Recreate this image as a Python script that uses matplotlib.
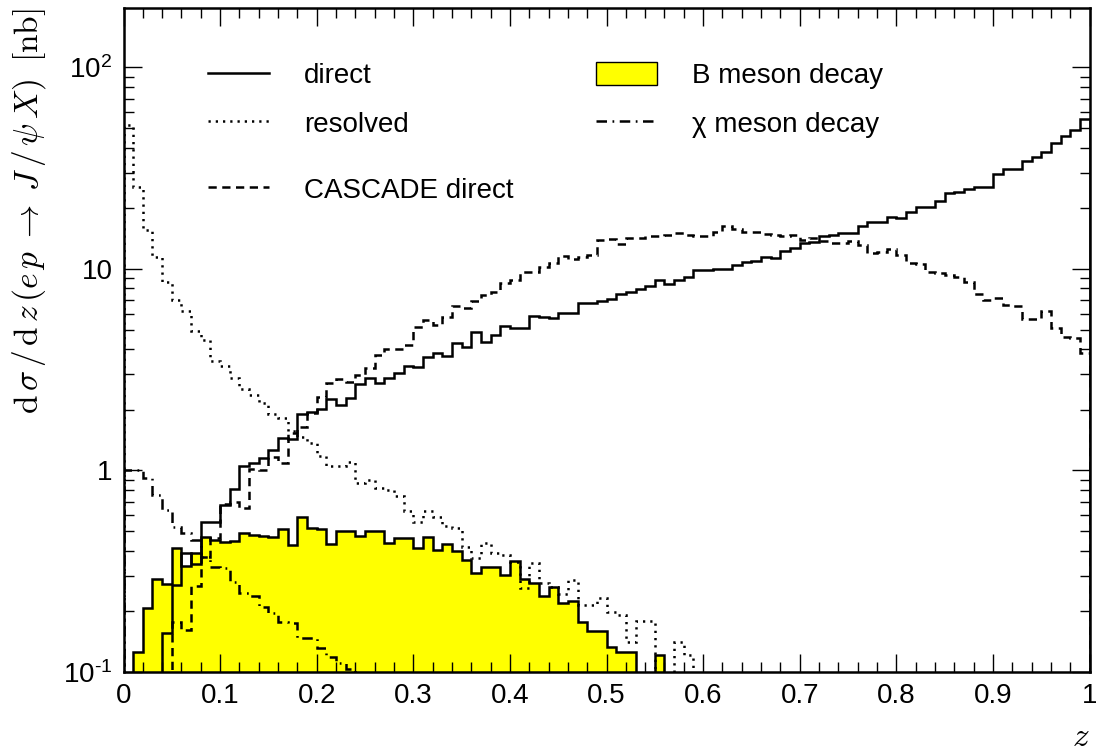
import numpy as np
import matplotlib
matplotlib.use("Agg")
import matplotlib.pyplot as plt
from matplotlib.lines import Line2D
from matplotlib.patches import Patch
from matplotlib.ticker import FixedLocator, FuncFormatter, LogLocator, NullFormatter

plt.rcParams['font.family'] = ['Liberation Sans', 'DejaVu Sans']
plt.rcParams['mathtext.fontset'] = 'custom'
plt.rcParams['mathtext.rm'] = 'Liberation Sans'
plt.rcParams['mathtext.it'] = 'Liberation Sans:italic'

# histograms in 100 bins of width 0.01 in z; each series lists its bins from a first bin on
bin_width = 0.01

direct_first = 4
direct = [0.156, 0.27, 0.39, 0.343, 0.557, 0.557,
          0.674, 0.807, 1.05, 1.09, 1.15, 1.27, 1.45, 1.43, 1.90, 1.94,
          2.01, 2.26, 2.11, 2.30, 2.69, 2.87, 2.71, 2.89, 3.04, 3.30,
          3.27, 3.67, 3.84, 3.70, 4.28, 4.12, 4.88, 4.36, 4.70, 5.21,
          5.08, 5.11, 5.86, 5.76, 5.70, 6.07, 6.03, 6.76, 6.76, 6.94,
          7.10, 7.49, 7.66, 7.93, 8.26, 8.82, 8.43, 8.82, 9.16, 9.89,
          9.84, 10.0, 10.0, 10.5, 10.8, 11.0, 11.4, 11.3, 12.3, 12.7,
          13.5, 13.6, 14.5, 14.7, 15.0, 15.0, 16.3, 17.0, 17.0, 18.2,
          17.8, 19.2, 20.2, 20.2, 21.7, 23.7, 24.2, 24.9, 25.6, 25.6,
          29.6, 31.2, 31.2, 34.3, 36.1, 38.2, 42.0, 45.4, 49.0, 55.3]

cascade_first = 5
cascade = [0.178, 0.162, 0.267, 0.37, 0.46,
           0.68, 0.70, 0.65, 1.02, 1.0, 1.17, 1.09, 1.54, 1.65, 1.92,
           2.32, 2.72, 2.84, 2.76, 2.98, 3.21, 3.74, 3.99, 4.0, 4.2,
           5.14, 5.58, 5.27, 5.76, 6.55, 6.38, 6.96, 7.43, 7.71, 8.49,
           8.82, 9.70, 9.6, 10.2, 10.7, 11.6, 11.2, 11.4, 11.7, 13.9,
           14.0, 13.3, 14.3, 14.3, 14.6, 14.6, 14.8, 15.1, 14.8, 14.6,
           14.5, 15.2, 16.3, 15.7, 15.2, 15.2, 14.9, 14.7, 14.5, 14.7,
           13.9, 14.2, 13.7, 13.5, 13.4, 13.7, 13.2, 12.0, 12.2, 12.5,
           11.7, 10.7, 10.6, 9.70, 9.5, 9.34, 9.1, 8.65, 7.51, 7.02,
           7.16, 6.63, 6.55, 5.63, 5.63, 6.21, 5.08, 4.61, 4.53, 3.82]

resolved_first = 0
resolved = [51.8, 25.4, 15.6, 11.4, 8.65, 7.02, 6.18, 4.94, 4.42, 3.49,
            3.30, 2.88, 2.55, 2.36, 2.15, 1.91, 1.83, 1.57, 1.47, 1.37,
            1.18, 1.05, 1.05, 1.10, 0.87, 0.90, 0.82, 0.80, 0.75, 0.627,
            0.552, 0.627, 0.59, 0.53, 0.52, 0.419, 0.367, 0.437, 0.39, 0.381,
            0.352, 0.26, 0.346, 0.275, 0.265, 0.245, 0.286, 0.215, 0.215, 0.233,
            0.199, 0.192, 0.141, 0.179, 0.179, 0, 0, 0.141, 0.122]

bmeson_first = 1
bmeson = [0.126, 0.207, 0.288, 0.272, 0.414, 0.336, 0.39, 0.469, 0.452,
          0.44, 0.449, 0.491, 0.479, 0.473, 0.469, 0.511, 0.427, 0.586, 0.517,
          0.511, 0.431, 0.50, 0.50, 0.473, 0.499, 0.50, 0.438, 0.46, 0.462,
          0.413, 0.469, 0.405, 0.43, 0.398, 0.36, 0.309, 0.332, 0.332, 0.303,
          0.356, 0.291, 0.275, 0.238, 0.265, 0.219, 0.225, 0.178, 0.16, 0.16,
          0.133, 0.126, 0.126, 0, 0, 0.122]

chi_first = 0
chi = [1.0, 1.0, 0.915, 0.756, 0.636, 0.526, 0.488, 0.45, 0.373, 0.333,
       0.327, 0.279, 0.246, 0.237, 0.211, 0.197, 0.178, 0.176, 0.148, 0.147,
       0.131, 0.119, 0.111, 0.103]

labels = ["direct", "resolved", "CASCADE direct", "B meson decay", "\u03c7 meson decay"]
y_major = [0.1, 1, 10, 100]
y_major_labels = [r"$10^{\text{-}1}$", "1", "10", r"$10^{2}$"]

floor = 1e-3  # empty bins are drawn below the axis


def edges_for(first, values):
    return (first + np.arange(len(values) + 1)) * bin_width


def shown(values):
    v = np.asarray(values, dtype=float)
    return np.where(v > 0, v, floor)


fig = plt.figure(figsize=(10.96, 7.51), dpi=100)
ax = fig.add_axes([0.1127, 0.1052, 0.8814, 0.8841])

lw = 1.8
styles = {
    "direct": "-",
    "resolved": (0, (0.9, 2.0)),
    "cascade": (0, (3.3, 2.2)),
    "chi": (0, (4.2, 2.2, 0.7, 2.2)),
}

ax.stairs(shown(bmeson), edges_for(bmeson_first, bmeson), baseline=floor,
          fill=True, color="#ffff00", zorder=1)
ax.stairs(shown(bmeson), edges_for(bmeson_first, bmeson), baseline=floor,
          color="black", lw=lw, zorder=2)
ax.stairs(shown(direct), edges_for(direct_first, direct), baseline=floor,
          color="black", lw=lw, ls=styles["direct"], zorder=3)
ax.stairs(shown(resolved), edges_for(resolved_first, resolved), baseline=floor,
          color="black", lw=lw, ls=styles["resolved"], zorder=3)
ax.stairs(shown(cascade), edges_for(cascade_first, cascade), baseline=floor,
          color="black", lw=lw, ls=styles["cascade"], zorder=3)
ax.stairs(shown(chi), edges_for(chi_first, chi), baseline=floor,
          color="black", lw=lw, ls=styles["chi"], zorder=3)

ax.set_yscale("log")
ax.set_xlim(0, 1)
ax.set_ylim(0.1, 197)

ax.xaxis.set_major_locator(FixedLocator(np.arange(0, 1.01, 0.1)))
ax.xaxis.set_minor_locator(FixedLocator(np.arange(0, 1.001, 0.02)))
ax.xaxis.set_major_formatter(FuncFormatter(lambda v, p: "%g" % round(v, 1)))
ax.yaxis.set_major_locator(FixedLocator(y_major))
ax.yaxis.set_major_formatter(FuncFormatter(lambda v, p: y_major_labels[p] if p is not None and p < len(y_major_labels) else ""))
ax.yaxis.set_minor_locator(LogLocator(base=10, subs=np.arange(2, 10)))
ax.yaxis.set_minor_formatter(NullFormatter())

ax.tick_params(which="both", direction="in", top=True, right=True, width=1.0, labelsize=20)
ax.tick_params(which="major", length=13)
ax.tick_params(which="minor", length=7)
ax.tick_params(axis="x", pad=8)
ax.tick_params(axis="y", pad=8)
for s in ax.spines.values():
    s.set_linewidth(1.8)

ax.set_ylabel(r"$\mathrm{d}\,\sigma\,/\,\mathrm{d}\,z\,(e\,p\;\rightarrow\;J\,/\,\psi\,X)\;\;[\mathrm{nb}]$",
              loc="top", fontsize=24, math_fontfamily="cm", labelpad=11)
ax.set_xlabel(r"$z$", loc="right", fontsize=24, math_fontfamily="cm", labelpad=9)

# legend boxes placed like the original
h_direct = Line2D([], [], color="black", lw=lw, ls=styles["direct"])
h_res = Line2D([], [], color="black", lw=lw, ls=styles["resolved"])
h_cas = Line2D([], [], color="black", lw=lw, ls=styles["cascade"])
h_b = Patch(facecolor="#ffff00", edgecolor="black", lw=1.0)
h_chi = Line2D([], [], color="black", lw=lw, ls=styles["chi"])

common = dict(frameon=False, fontsize=20, handlelength=2.2, handletextpad=1.25,
              borderpad=0, borderaxespad=0, loc="upper left",
              bbox_transform=fig.transFigure, labelspacing=0.76, handleheight=0.9)
leg1 = ax.legend([h_direct, h_res], labels[:2], bbox_to_anchor=(0.1898, 0.917), **common)
ax.add_artist(leg1)
leg2 = ax.legend([h_cas], labels[2:3], bbox_to_anchor=(0.1898, 0.765), **common)
ax.add_artist(leg2)
leg3 = ax.legend([h_b, h_chi], labels[3:], bbox_to_anchor=(0.5438, 0.917), **common)

fig.savefig("out.png", dpi=100)
